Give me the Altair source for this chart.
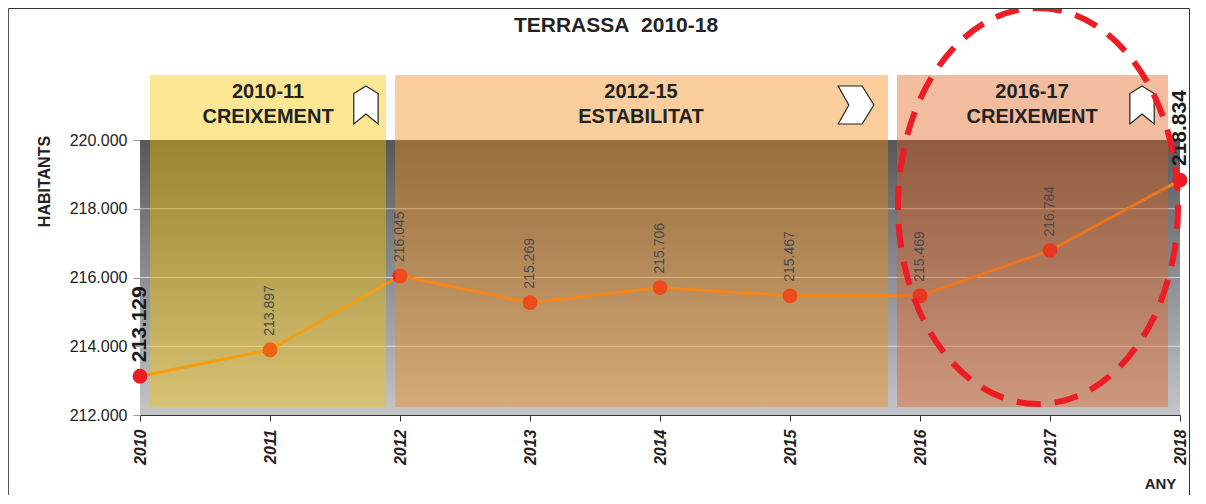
import altair as alt
import pandas as pd

FONT = "Liberation Sans"

# ---- data ----
years = [2010, 2011, 2012, 2013, 2014, 2015, 2016, 2017, 2018]
population = [213129, 213897, 216045, 215269, 215706, 215467, 215469, 216784, 218834]

y_ticks = [212000, 214000, 216000, 218000, 220000]
grid_values = [214000, 216000, 218000]

period_start = [2010.077, 2011.962, 2015.823]
period_end = [2011.892, 2015.754, 2017.908]
period_years = ["2010-11", "2012-15", "2016-17"]
period_trend = ["CREIXEMENT", "ESTABILITAT", "CREIXEMENT"]
period_colors = ["#f5c400", "#f38a14", "#e0601a"]
period_text_x = [2010.985, 2013.854, 2016.862]
period_icon_x = [2011.738, 2015.508, 2017.708]
band_bottom = 212233
band_top = 221891
header_line1_y = 221397
header_line2_y = 220655
icon_y = 221018

highlight_x = 2016.908
highlight_y = 218080

title_text = "TERRASSA\u00a0\u00a02010-18"

# ---- tables ----
df = pd.DataFrame({
    "year": years,
    "value": population,
    "label": [f"{v / 1000:.3f}" for v in population],
})
small_df = df.iloc[1:-1]
big_df = df.iloc[[0, len(df) - 1]]

bg_df = pd.DataFrame({"x": [years[0]], "x2": [years[-1]],
                      "y": [y_ticks[0]], "y2": [y_ticks[-1]]})
grid_df = pd.DataFrame({"value": grid_values})

periods = pd.DataFrame({
    "start": period_start, "end": period_end,
    "bottom": [band_bottom] * 3, "top": [band_top] * 3,
    "color": period_colors,
})
header_df = pd.DataFrame({
    "x": period_text_x * 2,
    "y": [header_line1_y] * 3 + [header_line2_y] * 3,
    "text": period_years + period_trend,
})
up_icons = pd.DataFrame({"x": [period_icon_x[0], period_icon_x[2]], "y": [icon_y, icon_y]})
right_icons = pd.DataFrame({"x": [period_icon_x[1]], "y": [icon_y]})
ellipse_df = pd.DataFrame({"x": [highlight_x], "y": [highlight_y]})

# ---- scales / axes ----
XS = alt.Scale(domain=[years[0], years[-1]], nice=False, zero=False)
YS = alt.Scale(domain=[y_ticks[0], y_ticks[-1]], nice=False, zero=False)

X_AXIS = alt.Axis(
    values=years, format="d", labelAngle=270, labelAlign="right", labelBaseline="middle",
    labelFont=FONT, labelFontSize=16, labelFontWeight="bold", labelFontStyle="italic",
    labelColor="#222222", labelPadding=8, labelFlush=False, labelOverlap=False,
    tickSize=6, tickColor="#333333", domainColor="#333333", grid=False,
    title="ANY", titleX=1020, titleY=68, titleFont=FONT, titleFontSize=15,
    titleFontWeight="bold", titleColor="#222222", titleAlign="center", titleBaseline="middle",
)
Y_AXIS = alt.Axis(
    values=y_ticks, labelExpr="format(datum.value / 1000, '.3f')",
    labelFont=FONT, labelFontSize=16, labelColor="#222222", labelPadding=6,
    tickSize=7, tickColor="#999999", domain=False, grid=False,
    title="HABITANTS", titleX=-96, titleY=41, titleAngle=270, titleAlign="center",
    titleBaseline="middle", titleFont=FONT, titleFontSize=16, titleFontWeight="bold",
    titleColor="#222222",
)


def X(field):
    return alt.X(field, type="quantitative", scale=XS, axis=X_AXIS)


def Y(field):
    return alt.Y(field, type="quantitative", scale=YS, axis=Y_AXIS)


background = alt.Chart(bg_df).mark_rect(
    fill=alt.Gradient(gradient="linear", x1=0, x2=0, y1=0, y2=1,
                      stops=[alt.GradientStop(offset=0, color="#58585a"),
                             alt.GradientStop(offset=1, color="#c3c5c9")])
).encode(x=X("x"), x2="x2", y=Y("y"), y2="y2")

grid = alt.Chart(grid_df).mark_rule(color="#ffffff", strokeWidth=1, opacity=0.6).encode(
    y=Y("value"))

line = alt.Chart(df).mark_line(color="#f7841e", strokeWidth=3).encode(
    x=X("year"), y=Y("value"))

points = alt.Chart(df).mark_circle(size=220, color="#ec1c24", opacity=1).encode(
    x=X("year"), y=Y("value"))

bands = alt.Chart(periods).mark_rect(opacity=0.42).encode(
    x=X("start"), x2="end", y=Y("bottom"), y2="top",
    fill=alt.Fill("color:N", scale=None))

headers = alt.Chart(header_df).mark_text(
    font=FONT, fontSize=20, fontWeight="bold", color="#222222",
    align="center", baseline="middle").encode(
    x=X("x"), y=Y("y"), text="text:N")

UP_PATH = "M0,-1 L0.64,-0.6 L0.64,1 L0,0.48 L-0.64,1 L-0.64,-0.6 Z"
RIGHT_PATH = "M-0.94,-1 L0.32,-1 L0.94,0 L0.32,1 L-0.94,1 L-0.38,0 Z"

up_icon_layer = alt.Chart(up_icons).mark_point(
    shape=UP_PATH, size=1444, filled=True, fill="#ffffff", stroke="#222222",
    strokeWidth=1.2, opacity=1).encode(x=X("x"), y=Y("y"))
right_icon_layer = alt.Chart(right_icons).mark_point(
    shape=RIGHT_PATH, size=1444, filled=True, fill="#ffffff", stroke="#222222",
    strokeWidth=1.2, opacity=1).encode(x=X("x"), y=Y("y"))

small_labels = alt.Chart(small_df).mark_text(
    font=FONT, fontSize=14, color="#4a4a4a", angle=270, align="left",
    baseline="middle", dx=14).encode(x=X("year"), y=Y("value"), text="label:N")

big_labels = alt.Chart(big_df).mark_text(
    font=FONT, fontSize=21, fontWeight="bold", color="#1a1a1a", angle=270,
    align="left", baseline="middle", dx=14).encode(x=X("year"), y=Y("value"), text="label:N")

k = 0.707
c = round(0.5523 * k, 4)
ELLIPSE_PATH = (f"M0,-1 C{c},-1 {k},-0.5523 {k},0 C{k},0.5523 {c},1 0,1 "
                f"C{-c},1 {-k},0.5523 {-k},0 C{-k},-0.5523 {-c},-1 0,-1 Z")

ellipse = alt.Chart(ellipse_df).mark_point(
    shape=ELLIPSE_PATH, size=396 * 396, filled=False, color="#ee1c25",
    strokeWidth=6, strokeDash=[24, 14], opacity=1).encode(x=X("x"), y=Y("y"))

title = alt.Chart(pd.DataFrame({"t": [title_text]})).mark_text(
    font=FONT, fontSize=21, fontWeight="bold", color="#222222",
    align="center", baseline="middle").encode(
    x=alt.value(476), y=alt.value(-114), text="t:N")

frame_df = pd.DataFrame({"k": [0]})
frame_top = alt.Chart(frame_df).mark_rule(color="#333333", strokeWidth=1).encode(
    x=alt.value(-131.5), x2=alt.value(1049.5), y=alt.value(-131.5))
frame_left = alt.Chart(frame_df).mark_rule(color="#555555", strokeWidth=1).encode(
    x=alt.value(-131.5), y=alt.value(-131.5), y2=alt.value(360))
frame_right = alt.Chart(frame_df).mark_rule(color="#333333", strokeWidth=1).encode(
    x=alt.value(1049.5), y=alt.value(-131.5), y2=alt.value(360))

chart = alt.layer(
    background, grid, line, points, bands, headers, up_icon_layer, right_icon_layer,
    small_labels, big_labels, ellipse, title, frame_top, frame_left, frame_right,
).properties(
    width=1040, height=275,
    padding={"left": 132, "top": 132, "right": 18, "bottom": 80},
    autosize=alt.AutoSizeParams(type="none"),
    background="#ffffff",
).configure_view(stroke=None)

chart.save("out.html", embed_options={"renderer": "svg", "actions": False})
